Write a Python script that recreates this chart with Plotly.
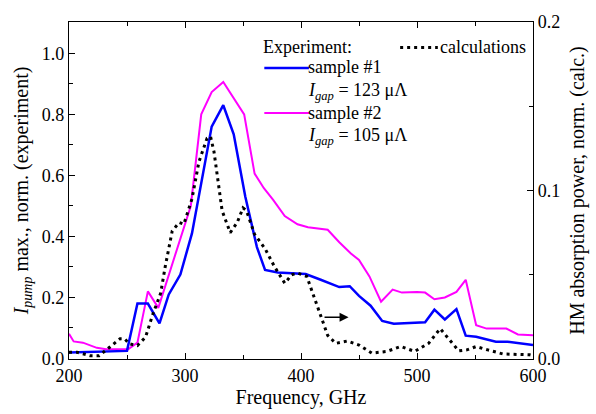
import plotly.graph_objects as go

# sample #1 (blue)
freq_s1 = [200, 225, 250, 259, 268, 278, 286, 296, 306, 323, 333, 342, 352, 362, 369, 380,
           404, 417, 433, 442, 450, 460, 470, 480, 500, 507, 515, 524, 534, 542, 551, 568, 578, 600]
val_s1 = [0.02, 0.022, 0.025, 0.18, 0.18, 0.115, 0.21, 0.275, 0.41, 0.76, 0.83, 0.735, 0.53, 0.365,
          0.29, 0.282, 0.277, 0.258, 0.234, 0.237, 0.205, 0.173, 0.123, 0.114, 0.117, 0.119, 0.16,
          0.128, 0.162, 0.075, 0.071, 0.055, 0.055, 0.044]

# sample #2 (magenta)
freq_s2 = [200, 204, 212, 224, 232, 251, 259, 268, 277, 305, 314, 323, 333, 351, 360, 368, 376,
           386, 397, 406, 423, 433, 443, 450, 459, 469, 479, 487, 500, 507, 515, 524, 534, 542,
           551, 560, 577, 587, 600]
val_s2 = [0.081, 0.056, 0.052, 0.035, 0.03, 0.03, 0.052, 0.22, 0.166, 0.50, 0.80, 0.873, 0.906,
          0.80, 0.606, 0.558, 0.52, 0.467, 0.44, 0.43, 0.422, 0.381, 0.344, 0.323, 0.269, 0.186,
          0.226, 0.216, 0.218, 0.216, 0.194, 0.2, 0.218, 0.258, 0.109, 0.098, 0.098, 0.079, 0.076]

# calculations (right axis)
freq_calc = [200, 207, 218, 226, 235, 244, 248, 252, 259, 266, 272, 279, 283, 289, 295, 299, 306,
             312, 319, 322, 325, 329, 332, 339, 345, 350, 353, 360, 369, 377, 386, 392, 397, 405,
             410, 417, 423, 430, 440, 450, 461, 474, 486, 498, 506, 510, 520, 527, 536, 543, 551,
             561, 574, 597, 600]
val_calc = [0.004, 0.004, 0.002, 0.002, 0.007, 0.012, 0.012, 0.009, 0.008, 0.013, 0.026, 0.039,
            0.055, 0.076, 0.081, 0.080, 0.095, 0.117, 0.131, 0.132, 0.123, 0.103, 0.088, 0.075,
            0.081, 0.0897, 0.088, 0.074, 0.0655, 0.055, 0.045, 0.05, 0.051, 0.049, 0.039, 0.026,
            0.014, 0.0093, 0.0107, 0.0083, 0.0035, 0.0045, 0.0074, 0.0045, 0.0074, 0.0093, 0.018,
            0.012, 0.0048, 0.0054, 0.0074, 0.0054, 0.003, 0.0025, 0.002]

x_ticks = [200, 300, 400, 500, 600]
y_left_ticks = [0.0, 0.2, 0.4, 0.6, 0.8, 1.0]
y_right_ticks = [0.0, 0.1, 0.2]

BLUE = "#0000ff"
MAGENTA = "#ff00ff"
FONT = "Liberation Serif, Times New Roman, serif"
TICK_SIZE = 18
TITLE_SIZE = 20
LEG_SIZE = 18

fig = go.Figure()
fig.add_trace(go.Scatter(x=freq_s2, y=val_s2, mode="lines", line=dict(color=MAGENTA, width=2),
                         showlegend=False))
fig.add_trace(go.Scatter(x=freq_s1, y=val_s1, mode="lines", line=dict(color=BLUE, width=2.5),
                         showlegend=False))
fig.add_trace(go.Scatter(x=freq_calc, y=val_calc, mode="lines", yaxis="y2",
                         line=dict(color="black", width=3, dash="3px,4px"), showlegend=False))

axis_common = dict(showline=True, linecolor="black", linewidth=1.3, ticks="inside",
                   tickcolor="black", ticklen=6, tickwidth=1.2, showgrid=False, zeroline=False,
                   tickfont=dict(family=FONT, size=TICK_SIZE, color="black"))

fig.update_layout(
    width=596, height=414,
    margin=dict(l=69, r=59, t=17, b=53),
    paper_bgcolor="white", plot_bgcolor="white",
    font=dict(family=FONT, size=LEG_SIZE, color="black"),
    xaxis=dict(range=[200, 600], tickvals=x_ticks, ticktext=[str(v) for v in x_ticks],
               mirror="ticks",
               minor=dict(ticks="inside", ticklen=4, tickcolor="black", dtick=50, tick0=200),
               title=dict(text="Frequency, GHz", font=dict(family=FONT, size=TITLE_SIZE),
                          standoff=2),
               **axis_common),
    yaxis=dict(range=[-0.0016, 1.1027], tickvals=y_left_ticks,
               ticktext=["%.1f" % v for v in y_left_ticks],
               minor=dict(ticks="inside", ticklen=4, tickcolor="black", dtick=0.1, tick0=0),
               title=dict(text="<i>I</i><sub><i>pump</i></sub> max., norm. (experiment)",
                          font=dict(family=FONT, size=TITLE_SIZE), standoff=7),
               **axis_common),
    yaxis2=dict(range=[0, 0.2], overlaying="y", side="right", tickvals=y_right_ticks,
                ticktext=["%.1f" % v for v in y_right_ticks],
                minor=dict(ticks="inside", ticklen=4, tickcolor="black", dtick=0.05, tick0=0),
                title=dict(text="HM absorption power, norm. (calc.)",
                           font=dict(family=FONT, size=TITLE_SIZE), standoff=10),
                **axis_common),
)

# arrow pointing to right axis
fig.add_annotation(x=441, y=0.0248, ax=419, ay=0.0248, xref="x", yref="y2", axref="x",
                   ayref="y2", showarrow=True, arrowhead=2, arrowsize=1.2, arrowwidth=1.5,
                   arrowcolor="black", text="")

# custom legend
def px2paper(px, py):
    return (px - 69) / 468, (361 - py) / 344

def legend_line(x0, x1, yy, color, dash=None, width=2.5):
    a = px2paper(x0, yy)
    b = px2paper(x1, yy)
    fig.add_shape(type="line", xref="paper", yref="paper", x0=a[0], y0=a[1], x1=b[0], y1=b[1],
                  line=dict(color=color, width=width, dash=dash))

def legend_text(x, y, text):
    p = px2paper(x, y)
    fig.add_annotation(x=p[0], y=p[1], xref="paper", yref="paper", text=text, showarrow=False,
                       xanchor="left", yanchor="middle", font=dict(family=FONT, size=LEG_SIZE))

legend_text(263, 43, "Experiment:")
legend_line(266, 311, 64, BLUE)
legend_text(308, 63, "sample #1")
legend_text(308, 88, "<i>I</i><sub><i>gap</i></sub> = 123 μΛ")
legend_line(266, 311, 110, MAGENTA, width=2)
legend_text(308, 110, "sample #2")
legend_text(308, 134, "<i>I</i><sub><i>gap</i></sub> = 105 μΛ")
legend_line(403, 441, 43, "black", dash="3px,4px", width=3)
legend_text(441, 43, "calculations")

fig.write_html("out.html", config={"displayModeBar": False},
               post_script="document.body.style.margin='0';document.body.style.padding='0';")
